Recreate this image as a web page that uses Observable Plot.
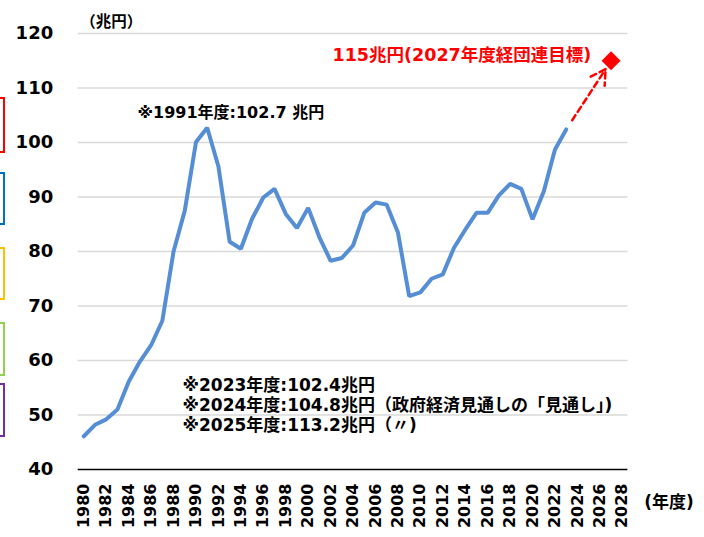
<!DOCTYPE html>
<html><head><meta charset="utf-8">
<script src="https://cdn.jsdelivr.net/npm/d3@7"></script>
<script src="https://cdn.jsdelivr.net/npm/@observablehq/plot@0.6"></script>
<style>
html,body{margin:0;padding:0;background:#fff;}
#wrap{position:relative;width:704px;height:537px;overflow:hidden;}
.box{position:absolute;left:-17px;width:22px;border-style:solid;border-width:2.5px;box-sizing:border-box;}
svg{font-family:"DejaVu Sans","Noto Sans CJK JP",sans-serif;font-weight:bold;}
</style></head>
<body><div id="wrap"></div>
<script>
const years = [1980,1981,1982,1983,1984,1985,1986,1987,1988,1989,1990,1991,1992,1993,1994,1995,1996,1997,1998,1999,2000,2001,2002,2003,2004,2005,2006,2007,2008,2009,2010,2011,2012,2013,2014,2015,2016,2017,2018,2019,2020,2021,2022,2023];
const capex = [46.1,48.2,49.2,51.0,56.1,59.8,62.8,67.3,80.0,87.5,100.1,102.7,95.6,81.8,80.5,86.0,89.9,91.5,86.9,84.3,88.0,82.6,78.3,78.8,81.1,87.1,89.0,88.6,83.5,71.8,72.5,75.0,75.8,80.7,84.0,87.1,87.1,90.3,92.4,91.5,85.9,91.0,98.7,102.4];
const targetYear = [2027];
const targetValue = [115];
const xTicks = [1980,1982,1984,1986,1988,1990,1992,1994,1996,1998,2000,2002,2004,2006,2008,2010,2012,2014,2016,2018,2020,2022,2024,2026,2028];
const yTicks = [40,50,60,70,80,90,100,110,120];
const boxColors = ["#ff0000","#0070c0","#ffc000","#92d050","#7030a0"];
const boxTops = [97,172,247,322,383];
const boxHeights = [56,53,53,54,54];

const data = years.map((y,i)=>({year:y, value:capex[i]}));
const target = targetYear.map((y,i)=>({year:y, value:targetValue[i]}));
const last = data[data.length-1];

const chart = Plot.plot({
  width:704, height:537,
  marginTop:33, marginBottom:68, marginLeft:77.7, marginRight:76.6,
  x:{type:"linear", domain:[1979.5,2028.5]},
  y:{domain:[40,120]},
  style:{fontFamily:'"DejaVu Sans","Noto Sans CJK JP",sans-serif', fontWeight:"bold", color:"#000", background:"#fff"},
  marks:[
    Plot.gridY(yTicks.filter(d=>d>40), {stroke:"#d9d9d9", strokeOpacity:1, strokeWidth:1.5}),
    Plot.ruleY([40], {stroke:"#000", strokeWidth:1.5}),
    Plot.axisY(yTicks, {tickSize:0, tickPadding:25, fontSize:18, label:null, fill:"#000"}),
    Plot.axisX(xTicks, {tickSize:0, tickPadding:14, tickRotate:-90, fontSize:16, label:null, tickFormat:d=>String(d), fill:"#000"}),
    Plot.line(data, {x:"year", y:"value", stroke:"#558ed5", strokeWidth:4, strokeLinejoin:"miter"}),
    Plot.arrow([{x1:last.year,y1:last.value,x2:target[0].year,y2:target[0].value}], {x1:"x1",y1:"y1",x2:"x2",y2:"y2", stroke:"#ff0000", strokeWidth:2.5, strokeDasharray:"6,4", insetStart:11, insetEnd:10, headLength:10}),
    Plot.dot(target, {x:"year", y:"value", symbol:"square", r:7.6, rotate:45, fill:"#ff0000", stroke:null}),
    Plot.text(["115兆円(2027年度経団連目標)"], {frameAnchor:"top-left", dx:254.3, dy:15, fill:"#ff0000", fontSize:17.5, textAnchor:"start"}),
    Plot.text(["※1991年度:102.7 兆円"], {frameAnchor:"top-left", dx:59.3, dy:73, fill:"#000", fontSize:16, textAnchor:"start"}),
    Plot.text(["※2023年度:102.4兆円"], {frameAnchor:"top-left", dx:104.3, dy:345, fill:"#000", fontSize:17, textAnchor:"start"}),
    Plot.text(["※2024年度:104.8兆円（政府経済見通しの「見通し」)"], {frameAnchor:"top-left", dx:104.3, dy:365, fill:"#000", fontSize:17, textAnchor:"start"}),
    Plot.text(["※2025年度:113.2兆円（〃)"], {frameAnchor:"top-left", dx:104.3, dy:385, fill:"#000", fontSize:17, textAnchor:"start"}),
    Plot.text(["（兆円）"], {frameAnchor:"top-left", dx:2, dy:-18, fill:"#000", fontSize:15.5, textAnchor:"start"}),
    Plot.text(["(年度)"], {frameAnchor:"bottom-right", dx:66, dy:38, fill:"#000", fontSize:17, textAnchor:"end"})
  ]
});
const wrap = document.getElementById("wrap");
wrap.appendChild(chart);
boxColors.forEach((c,i)=>{
  const d=document.createElement("div");
  d.className="box";
  d.style.top=boxTops[i]+"px";
  d.style.height=boxHeights[i]+"px";
  d.style.borderColor=c;
  wrap.appendChild(d);
});
</script></body></html>
